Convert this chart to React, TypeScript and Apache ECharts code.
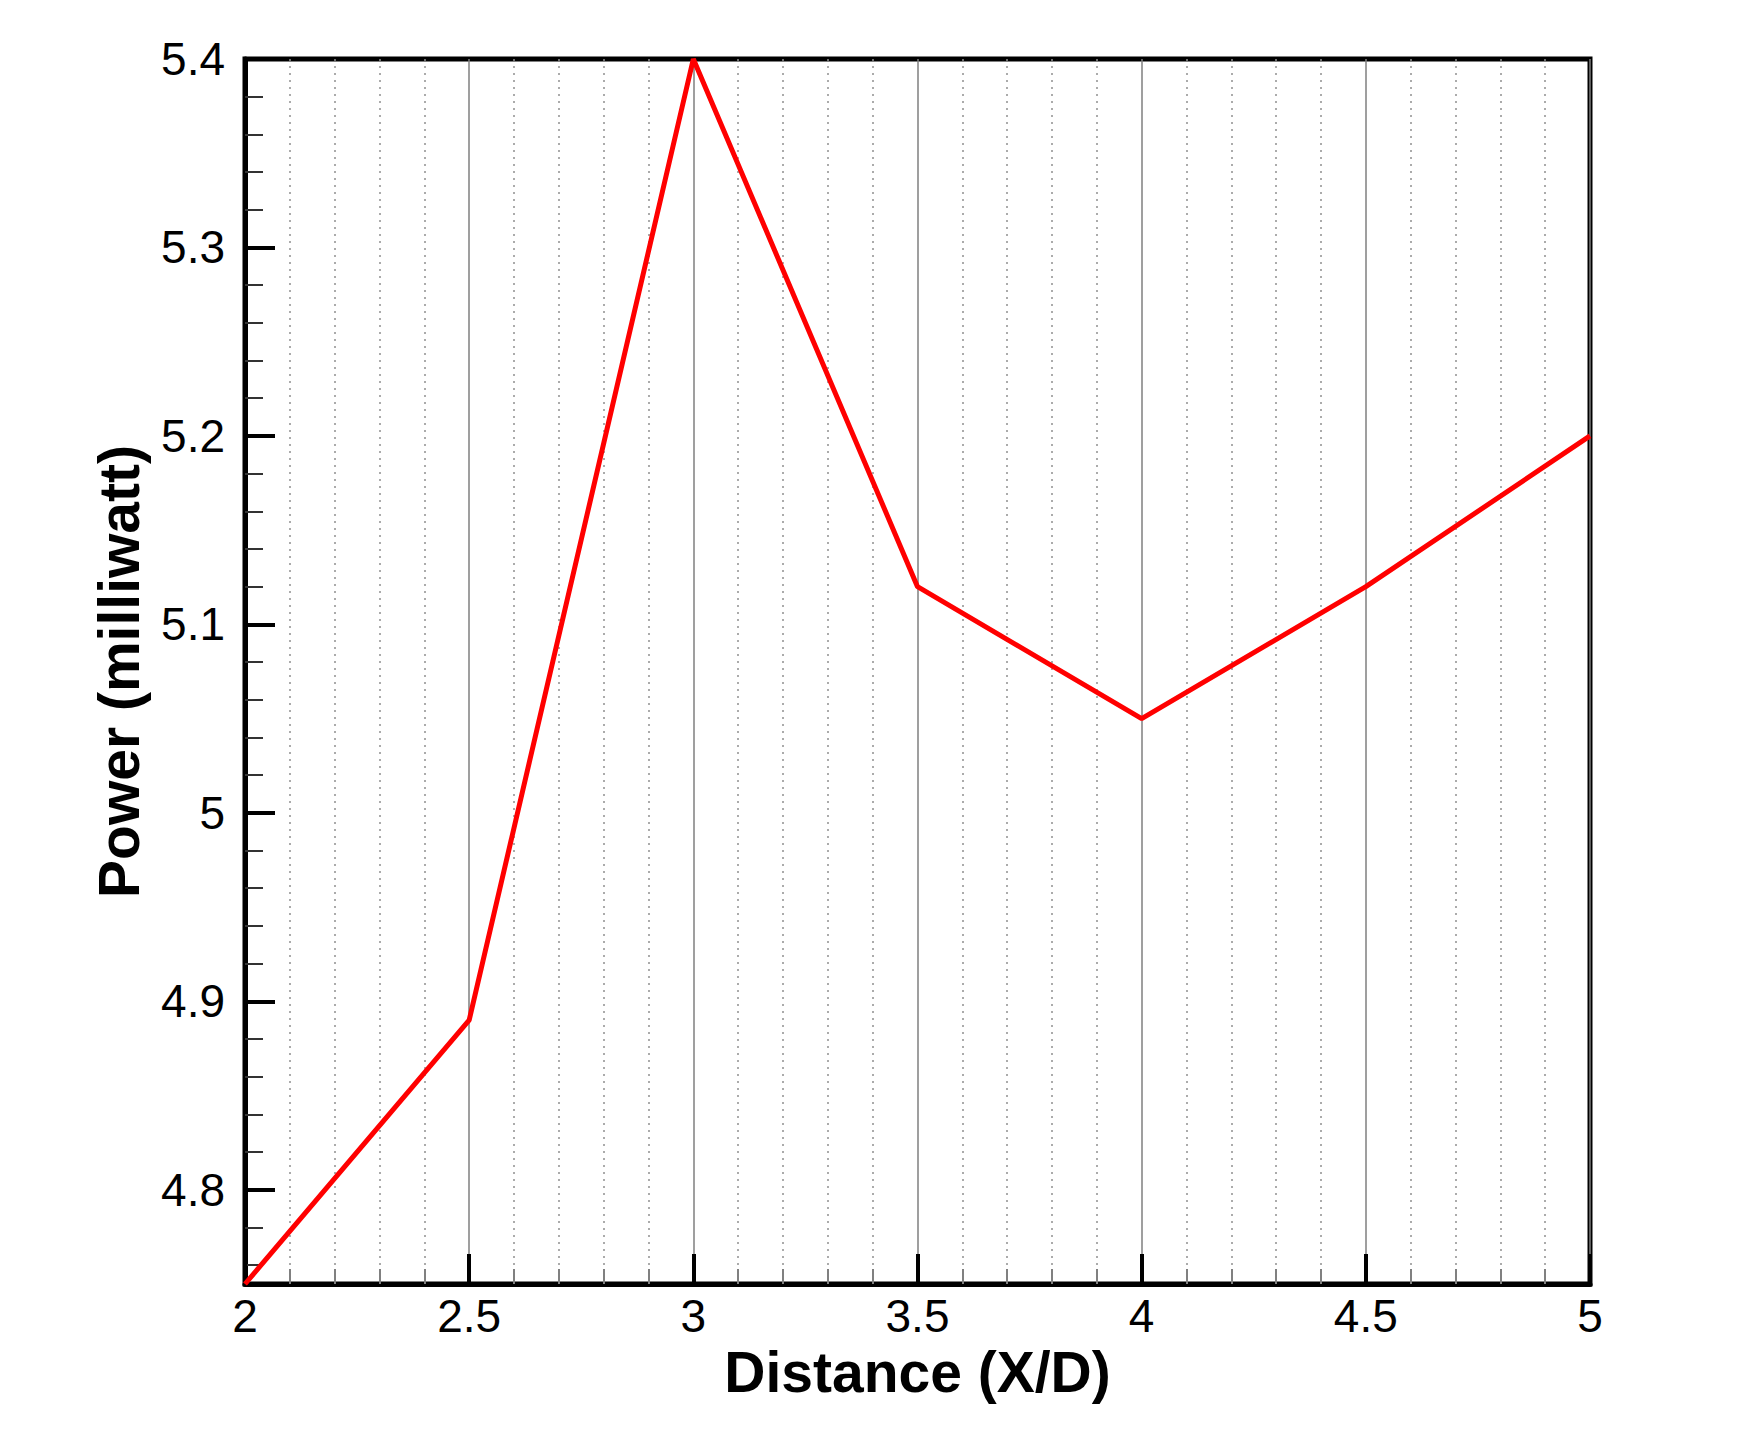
import React, { useEffect, useRef } from "react";
import * as echarts from "echarts";

const distance = [2, 2.5, 3, 3.5, 4, 4.5, 5];
const power = [4.75, 4.89, 5.4, 5.12, 5.05, 5.12, 5.2];
const yMajorTicks = [4.8, 4.9, 5.0, 5.1, 5.2, 5.3, 5.4];
const yMinorTicks = [
  4.76, 4.78, 4.82, 4.84, 4.86, 4.88, 4.92, 4.94, 4.96, 4.98,
  5.02, 5.04, 5.06, 5.08, 5.12, 5.14, 5.16, 5.18, 5.22, 5.24, 5.26, 5.28,
  5.32, 5.34, 5.36, 5.38,
];

const FONT = "'Liberation Sans', Arial, sans-serif";

export default function App() {
  const ref = useRef<HTMLDivElement>(null);
  useEffect(() => {
    if (!ref.current) return;
    const chart = echarts.init(ref.current, null, { renderer: "svg" });
    chart.setOption({
      animation: false,
      backgroundColor: "#ffffff",
      grid: {
        left: 245,
        right: 161,
        top: 59,
        bottom: 147,
        show: true,
        borderColor: "#000",
        borderWidth: 5,
        backgroundColor: "transparent",
      },
      xAxis: {
        type: "value",
        min: 2,
        max: 5,
        interval: 0.5,
        name: "Distance (X/D)",
        nameLocation: "middle",
        nameGap: 47,
        nameTextStyle: { fontFamily: FONT, fontWeight: "bold", fontSize: 57, color: "#000" },
        axisLine: { show: true, lineStyle: { color: "#000", width: 5 } },
        axisTick: { show: true, inside: true, length: 30, lineStyle: { color: "#000", width: 4 } },
        minorTick: { show: true, splitNumber: 5, length: 15, lineStyle: { color: "#808080", width: 2 } },
        axisLabel: {
          fontFamily: FONT,
          fontSize: 46,
          color: "#000",
          margin: 9,
          formatter: (v: number) => String(v),
        },
        splitLine: { show: true, lineStyle: { color: "#7f7f7f", width: 1.5, type: "solid" } },
        minorSplitLine: { show: true, lineStyle: { color: "#909090", width: 1.5, type: [2, 5] } },
      },
      yAxis: [
        {
          type: "value",
          min: 4.75,
          max: 5.4,
          name: "Power (milliwatt)",
          nameLocation: "middle",
          nameGap: 98,
          nameTextStyle: { fontFamily: FONT, fontWeight: "bold", fontSize: 57, color: "#000" },
          axisLine: { show: true, lineStyle: { color: "#000", width: 5 } },
          axisTick: {
            show: true,
            inside: true,
            length: 30,
            customValues: yMajorTicks,
            lineStyle: { color: "#000", width: 4 },
          },
          axisLabel: {
            fontFamily: FONT,
            fontSize: 46,
            color: "#000",
            margin: 20,
            customValues: yMajorTicks,
            formatter: (v: number) => String(Math.round(v * 10) / 10),
          },
          splitLine: { show: false },
        },
        {
          type: "value",
          min: 4.75,
          max: 5.4,
          position: "left",
          axisLine: { show: false },
          axisTick: {
            show: true,
            inside: true,
            length: 18,
            customValues: yMinorTicks,
            lineStyle: { color: "#333", width: 2 },
          },
          axisLabel: { show: false },
          splitLine: { show: false },
        },
      ],
      series: [
        {
          type: "line",
          data: distance.map((d, i) => [d, power[i]]),
          yAxisIndex: 0,
          showSymbol: false,
          symbol: "none",
          lineStyle: { color: "#ff0000", width: 5 },
          z: 3,
        },
      ],
    });
    return () => chart.dispose();
  }, []);
  return (
    <div
      ref={ref}
      style={{ position: "fixed", left: 0, top: 0, width: 1751, height: 1431, background: "#fff" }}
    />
  );
}
